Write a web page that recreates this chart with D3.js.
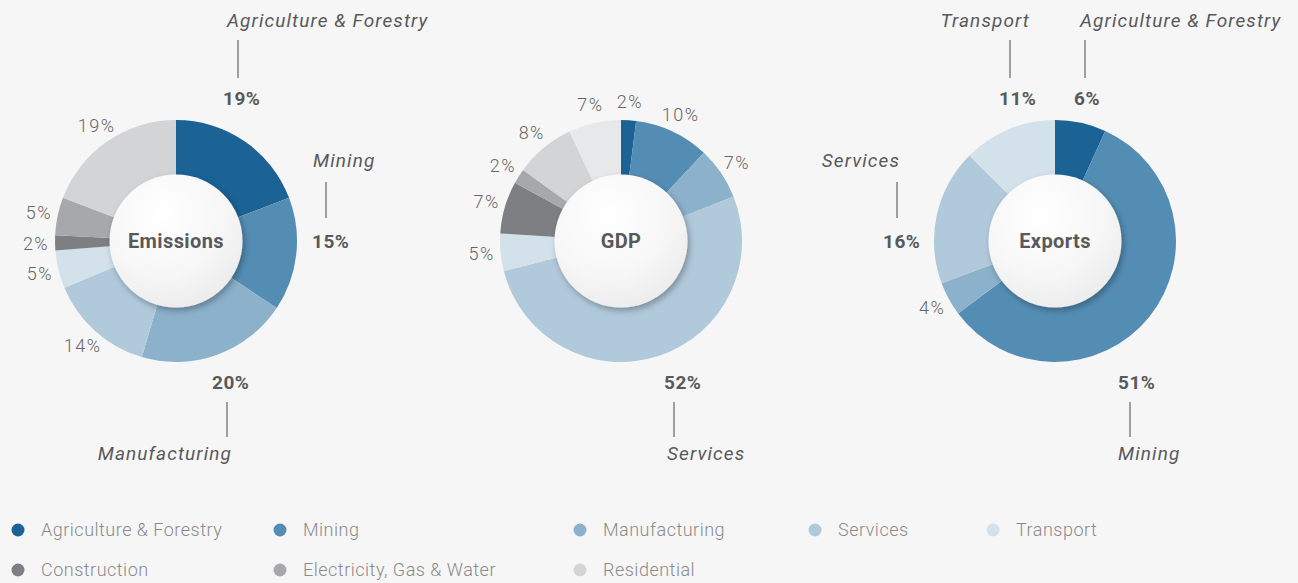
<!DOCTYPE html>
<html>
<head>
<meta charset="utf-8">
<script src="https://cdn.jsdelivr.net/npm/d3@7/dist/d3.min.js"></script>
<style>
  html, body { margin: 0; padding: 0; background: #f6f6f6; }
  svg { display: block; font-family: Roboto, "Liberation Sans", sans-serif; }
</style>
</head>
<body>
<svg id="chart" width="1298" height="583"></svg>
<script>
// ---------------- DATA ----------------
const categories = ["Agriculture & Forestry", "Mining", "Manufacturing", "Services", "Transport",
                    "Construction", "Electricity, Gas & Water", "Residential", "Other"];
const legendCategories = ["Agriculture & Forestry", "Mining", "Manufacturing", "Services", "Transport",
                          "Construction", "Electricity, Gas & Water", "Residential"];
const chartTitles = ["Emissions", "GDP", "Exports"];
const emissionsValues = [19, 15, 20, 14, 5, 2, 5, 19, 0];
const gdpValues       = [2, 10, 7, 52, 5, 7, 2, 8, 7];
const exportsValues   = [6, 51, 4, 16, 11, 0, 0, 0, 0];
const seriesValues = [emissionsValues, gdpValues, exportsValues];

// ---------------- STYLE / LAYOUT ----------------
const palette = ["#1b6295", "#548db4", "#8cb1cb", "#b0c9db", "#d3e1eb",
                 "#7e7f83", "#a7a8ab", "#d3d4d6", "#e7e8ea"];
const color = d3.scaleOrdinal().domain(categories).range(palette);

const W = 1298, H = 583;
const centersX = [176, 621, 1055];
const cy = 241;
const outerR = 121, innerR = 60, diskR = 66.5, labelR = 140;

// callouts: highlighted slices with bold % and italic name (layout only)
const calloutLayout = [
  [ {cat: "Agriculture & Forestry", side: "top",    line: 62,  pct: -15, name: -11, anchor: "start"},
    {cat: "Mining",                 side: "right",  line: 150, pct: -14, name: -13, anchor: "start"},
    {cat: "Manufacturing",          side: "bottom", line: 51,  pct: -15, name: 5,   anchor: "end"} ],
  [ {cat: "Services",               side: "bottom", line: 53,  pct: -10, name: -7,  anchor: "start"} ],
  [ {cat: "Transport",              side: "top",    line: -45, pct: -11, name: 20,  anchor: "end"},
    {cat: "Agriculture & Forestry", side: "top",    line: 30,  pct: -11, name: -5,  anchor: "start"},
    {cat: "Services",               side: "left",   line: -158,pct: -14, name: 3,   anchor: "end"},
    {cat: "Mining",                 side: "bottom", line: 75,  pct: -12, name: -12, anchor: "start"} ]
];
const vLayout = {
  top:    {name: -214, l1: -201, l2: -163, pct: -136},
  right:  {name: -74,  l1: -59,  l2: -23,  pct: 7},
  left:   {name: -74,  l1: -59,  l2: -23,  pct: 7},
  bottom: {pct: 148, l1: 161, l2: 196, name: 219}
};

const legendCols = [18, 280, 580, 815, 993];
const legendRows = [530, 570];

// ---------------- DRAW ----------------
const svg = d3.select("#chart");
svg.append("rect").attr("width", W).attr("height", H).attr("fill", "#f6f6f6");

const defs = svg.append("defs");
const grad = defs.append("radialGradient").attr("id", "diskGrad")
  .attr("cx", "40%").attr("cy", "30%").attr("r", "75%");
grad.append("stop").attr("offset", "0%").attr("stop-color", "#ffffff");
grad.append("stop").attr("offset", "60%").attr("stop-color", "#f7f7f7");
grad.append("stop").attr("offset", "100%").attr("stop-color", "#ebebeb");
const filt = defs.append("filter").attr("id", "shadow")
  .attr("x", "-30%").attr("y", "-30%").attr("width", "160%").attr("height", "160%");
filt.append("feDropShadow").attr("dx", 2).attr("dy", 3).attr("stdDeviation", 3)
  .attr("flood-color", "#000").attr("flood-opacity", 0.3);

const pie = d3.pie().sort(null).value(d => d.value);
const arc = d3.arc().innerRadius(innerR).outerRadius(outerR);

seriesValues.forEach((vals, ci) => {
  const data = categories.map((c, i) => ({cat: c, value: vals[i]})).filter(d => d.value > 0);
  const arcs = pie(data);
  const g = svg.append("g").attr("transform", `translate(${centersX[ci]},${cy})`);

  g.selectAll("path.slice").data(arcs).join("path")
    .attr("class", "slice")
    .attr("d", arc)
    .attr("fill", d => color(d.data.cat));

  g.append("circle").attr("r", diskR).attr("fill", "url(#diskGrad)").attr("filter", "url(#shadow)");
  g.append("text").text(chartTitles[ci])
    .attr("text-anchor", "middle").attr("y", 7)
    .attr("font-size", 20).attr("font-weight", 700).attr("letter-spacing", 0.4)
    .attr("fill", "#58595b");

  const callouts = calloutLayout[ci];
  const calloutCats = new Set(callouts.map(c => c.cat));

  // small percentage labels for non-callout slices
  g.selectAll("text.small").data(arcs.filter(d => !calloutCats.has(d.data.cat))).join("text")
    .attr("class", "small")
    .attr("x", d => labelR * Math.sin((d.startAngle + d.endAngle) / 2))
    .attr("y", d => -labelR * Math.cos((d.startAngle + d.endAngle) / 2))
    .attr("dy", "0.35em")
    .attr("text-anchor", "middle")
    .attr("font-size", 18).attr("font-weight", 300).attr("letter-spacing", 1.5)
    .attr("fill", "#666")
    .text(d => d.data.value + "%");

  // callouts
  callouts.forEach(co => {
    const d = arcs.find(a => a.data.cat === co.cat);
    const v = vLayout[co.side];
    g.append("line")
      .attr("x1", co.line).attr("x2", co.line)
      .attr("y1", v.l1).attr("y2", v.l2)
      .attr("stroke", "#666").attr("stroke-width", 1.2);
    g.append("text")
      .attr("x", co.line + co.pct).attr("y", v.pct)
      .attr("font-size", 19).attr("font-weight", 700).attr("letter-spacing", 0.5)
      .attr("fill", "#58595b")
      .text(d.data.value + "%");
    g.append("text")
      .attr("x", co.line + co.name).attr("y", v.name)
      .attr("text-anchor", co.anchor)
      .attr("font-size", 19).attr("font-style", "italic").attr("letter-spacing", 1.1)
      .attr("fill", "#58595b")
      .text(co.cat);
  });
});

// legend
const legend = svg.append("g");
legendCategories.forEach((c, i) => {
  const row = i < 5 ? 0 : 1;
  const col = i < 5 ? i : i - 5;
  const x = legendCols[col], y = legendRows[row];
  legend.append("circle").attr("cx", x).attr("cy", y).attr("r", 6.5).attr("fill", color(c));
  legend.append("text").attr("x", x + 23).attr("y", y).attr("dy", "0.35em")
    .attr("font-size", 18).attr("font-weight", 300).attr("letter-spacing", 0.5)
    .attr("fill", "#8a8a8a")
    .text(c);
});
</script>
</body>
</html>
